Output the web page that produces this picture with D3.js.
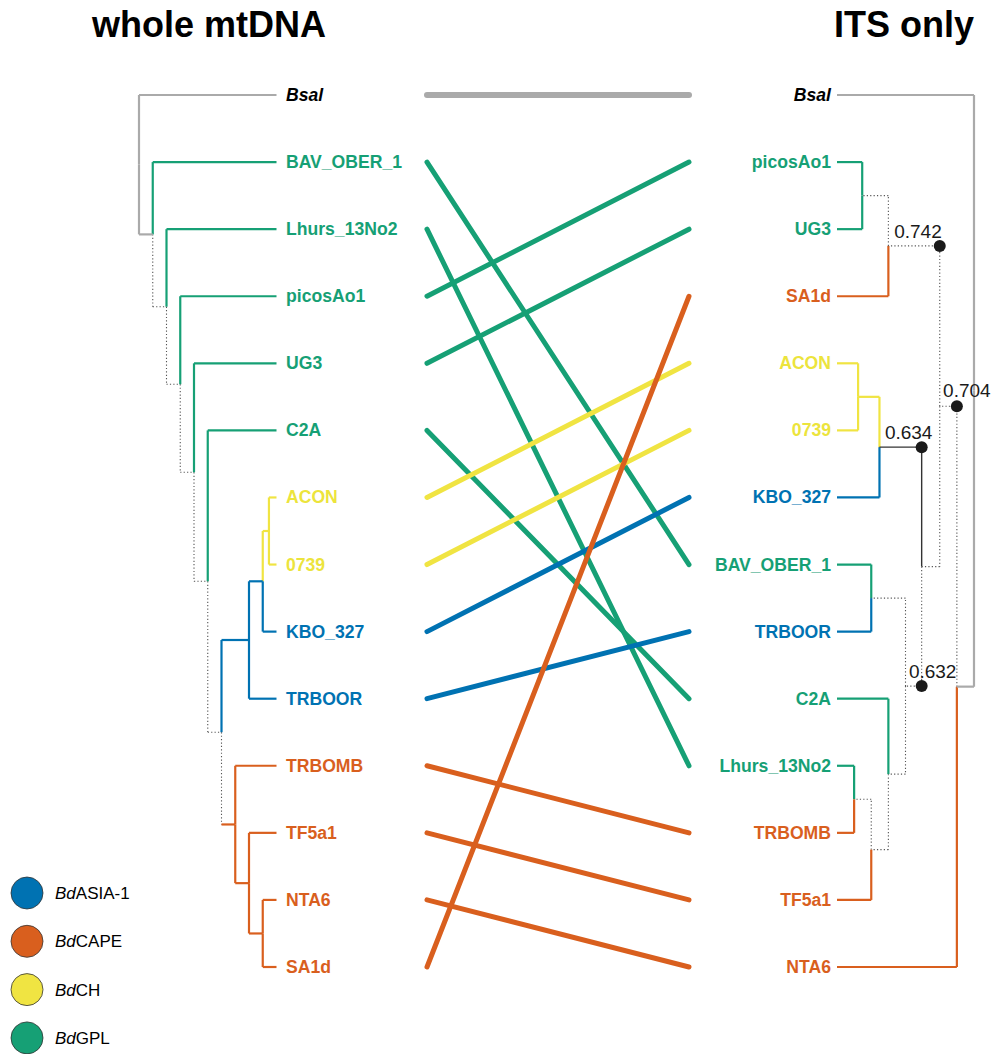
<!DOCTYPE html>
<html>
<head>
<meta charset="utf-8">
<script src="https://cdn.jsdelivr.net/npm/d3@7"></script>
<style>
  body { margin: 0; background: #fff; }
  text { font-family: "Liberation Sans", Arial, sans-serif; }
</style>
</head>
<body>
<script>
// Tip order of each tree, top to bottom
var leftTips = ['Bsal', 'BAV_OBER_1', 'Lhurs_13No2', 'picosAo1', 'UG3', 'C2A', 'ACON', '0739',
  'KBO_327', 'TRBOOR', 'TRBOMB', 'TF5a1', 'NTA6', 'SA1d']
var rightTips = ['Bsal', 'picosAo1', 'UG3', 'SA1d', 'ACON', '0739', 'KBO_327', 'BAV_OBER_1',
  'TRBOOR', 'C2A', 'Lhurs_13No2', 'TRBOMB', 'TF5a1', 'NTA6']

// Lineage of each isolate
var lineages = {
  Bsal: 'Bsal',
  BAV_OBER_1: 'GPL',
  Lhurs_13No2: 'GPL',
  picosAo1: 'GPL',
  UG3: 'GPL',
  C2A: 'GPL',
  ACON: 'CH',
  '0739': 'CH',
  KBO_327: 'ASIA1',
  TRBOOR: 'ASIA1',
  TRBOMB: 'CAPE',
  TF5a1: 'CAPE',
  NTA6: 'CAPE',
  SA1d: 'CAPE'
}

// Internal nodes: [id, parent, depth from root, branch class, connector class (optional)]
var leftNodes = [
  ['r', null, 0, 'Bsal'],
  ['n1', 'r', 1, 'Bsal'],
  ['n2', 'n1', 2, 'dotted'],
  ['n3', 'n2', 3, 'dotted'],
  ['n4', 'n3', 4, 'dotted'],
  ['n5', 'n4', 5, 'dotted'],
  ['n6', 'n5', 6, 'dotted'],
  ['n7', 'n6', 8, 'ASIA1'],
  ['n8', 'n6', 7, 'CAPE', 'dotted'],
  ['n9', 'n7', 9, 'ASIA1'],
  ['n10', 'n9', 9.45, 'CH'],
  ['n11', 'n8', 8, 'CAPE'],
  ['n12', 'n11', 9, 'CAPE']
]
// Parent node of each tip
var leftTipParents = {
  Bsal: 'r', BAV_OBER_1: 'n1', Lhurs_13No2: 'n2', picosAo1: 'n3', UG3: 'n4', C2A: 'n5',
  ACON: 'n10', '0739': 'n10', KBO_327: 'n9', TRBOOR: 'n7', TRBOMB: 'n8', TF5a1: 'n11',
  NTA6: 'n12', SA1d: 'n12'
}

var rightNodes = [
  ['r', null, 0, 'Bsal'],
  ['q', 'r', 1.25, 'Bsal'],
  ['p', 'q', 2.5, 'dotted'],
  ['t', 'p', 3.82, 'dotted'],
  ['s', 'p', 6.25, 'dotted'],
  ['u', 't', 6.9, 'plain'],
  ['v', 't', 5.0, 'dotted'],
  ['m', 's', 8.16, 'dotted'],
  ['w', 'u', 8.46, 'CH'],
  ['x', 'v', 7.5, 'dotted'],
  ['y', 'v', 6.25, 'dotted'],
  ['z', 'y', 7.5, 'dotted'],
  ['a', 'z', 8.75, 'dotted']
]
var rightTipParents = {
  Bsal: 'r', picosAo1: 'm', UG3: 'm', SA1d: 's', ACON: 'w', '0739': 'w', KBO_327: 'u',
  BAV_OBER_1: 'x', TRBOOR: 'x', C2A: 'y', Lhurs_13No2: 'a', TRBOMB: 'a', TF5a1: 'z', NTA6: 'q'
}

// Support values on the ITS tree
var supportNodes = ['s', 'p', 'u', 'v']
var supportValues = [0.742, 0.704, 0.634, 0.632]

// Legend
var legendKeys = ['ASIA1', 'CAPE', 'CH', 'GPL']
var legendNames = ['ASIA-1', 'CAPE', 'CH', 'GPL']

var width = 995
var height = 1054
var tipDepth = 10

var color = d3.scaleOrdinal()
  .domain(['Bsal', 'ASIA1', 'CAPE', 'CH', 'GPL', 'plain', 'dotted'])
  .range(['#aaaaaa', '#0072b2', '#d95f1e', '#f0e442', '#16a075', '#333333', '#555555'])

var labelColor = d3.scaleOrdinal()
  .domain(['Bsal', 'ASIA1', 'CAPE', 'CH', 'GPL'])
  .range(['#000000', '#0072b2', '#d95f1e', '#ece43c', '#16a075'])

var yScale = d3.scalePoint()
  .domain(d3.range(leftTips.length))
  .range([95, 967])

var svg = d3.select('body').append('svg')
  .attr('width', width)
  .attr('height', height)

// Build node table with x/y positions
function layoutTree (nodes, tipParents, tips, xScale) {
  var table = {}
  nodes.forEach(function (n) {
    table[n[0]] = { id: n[0], parent: n[1], depth: n[2], cls: n[3], link: n[4] || n[3], children: [] }
  })
  tips.forEach(function (t, i) {
    var c = lineages[t]
    table['tip:' + t] = { id: 'tip:' + t, parent: tipParents[t], depth: tipDepth, cls: c, link: c, children: [], y: yScale(i), name: t }
  })
  Object.keys(table).forEach(function (k) {
    var n = table[k]
    if (n.parent) table[n.parent].children.push(n)
  })
  function setY (n) {
    if (n.y !== undefined) return n.y
    n.y = d3.mean(n.children, setY)
    return n.y
  }
  Object.keys(table).forEach(function (k) {
    setY(table[k])
    table[k].x = xScale(table[k].depth)
  })
  return table
}

function styleLine (sel, cls) {
  sel.attr('fill', 'none')
    .attr('stroke', color(cls))
    .attr('stroke-width', cls === 'dotted' ? 1.1 : (cls === 'plain' ? 1.4 : 2.2))
    .attr('stroke-dasharray', cls === 'dotted' ? '1.2,2.2' : null)
}

function drawTree (table) {
  var g = svg.append('g')
  var list = Object.keys(table).map(function (k) { return table[k] }).filter(function (n) { return n.parent })
  // dotted first so coloured branches sit on top
  list.sort(function (a, b) { return (b.link === 'dotted') - (a.link === 'dotted') })
  list.forEach(function (n) {
    var p = table[n.parent]
    g.append('path')
      .attr('d', 'M' + p.x + ',' + p.y + 'V' + n.y)
      .call(styleLine, n.link)
  })
  list.sort(function (a, b) { return (b.cls === 'dotted') - (a.cls === 'dotted') })
  list.forEach(function (n) {
    var p = table[n.parent]
    g.append('path')
      .attr('d', 'M' + p.x + ',' + n.y + 'H' + n.x)
      .call(styleLine, n.cls)
  })
}

function drawLabels (tips, x, anchor) {
  svg.append('g').selectAll('text')
    .data(tips)
    .enter()
    .append('text')
    .attr('x', x)
    .attr('y', function (d, i) { return yScale(i) + 6 })
    .attr('text-anchor', anchor)
    .attr('font-size', 17.6)
    .attr('font-weight', 'bold')
    .attr('font-style', function (d) { return d === 'Bsal' ? 'italic' : null })
    .attr('fill', function (d) { return labelColor(lineages[d]) })
    .text(function (d) { return d })
}

var leftX = d3.scaleLinear().domain([0, tipDepth]).range([139, 276.5])
var rightX = d3.scaleLinear().domain([0, tipDepth]).range([974, 837])

var leftTree = layoutTree(leftNodes, leftTipParents, leftTips, leftX)
var rightTree = layoutTree(rightNodes, rightTipParents, rightTips, rightX)

drawTree(leftTree)
drawTree(rightTree)
drawLabels(leftTips, 286, 'start')
drawLabels(rightTips, 831, 'end')

// Links between the two trees
svg.append('g').selectAll('line')
  .data(leftTips)
  .enter()
  .append('line')
  .attr('x1', 427)
  .attr('x2', 689)
  .attr('y1', function (d, i) { return yScale(i) })
  .attr('y2', function (d) { return yScale(rightTips.indexOf(d)) })
  .attr('stroke', function (d) { return color(lineages[d]) })
  .attr('stroke-width', function (d) { return d === 'Bsal' ? 6 : 5 })
  .attr('stroke-linecap', 'round')

// Support values
var labelOffsets = [[2, -8], [10, -9], [-13, -8], [11, -8]]
supportNodes.forEach(function (id, i) {
  var n = rightTree[id]
  var px = rightTree[n.parent].x
  svg.append('circle')
    .attr('cx', px)
    .attr('cy', n.y)
    .attr('r', 6)
    .attr('fill', '#1a1a1a')
  svg.append('text')
    .attr('x', px + labelOffsets[i][0])
    .attr('y', n.y + labelOffsets[i][1])
    .attr('text-anchor', i === 0 ? 'end' : 'middle')
    .attr('font-family', '"Open Sans", "Noto Sans", sans-serif')
    .attr('font-size', 19)
    .attr('fill', '#1a1a1a')
    .text(supportValues[i])
})

// Titles
svg.append('text')
  .attr('x', 92)
  .attr('y', 37)
  .attr('font-size', 36)
  .attr('font-weight', 'bold')
  .text('whole mtDNA')
svg.append('text')
  .attr('x', 974)
  .attr('y', 37)
  .attr('text-anchor', 'end')
  .attr('font-size', 36)
  .attr('font-weight', 'bold')
  .text('ITS only')

// Legend
var legend = svg.append('g')
legendKeys.forEach(function (k, i) {
  var cy = 893 + i * 48.3
  legend.append('circle')
    .attr('cx', 27)
    .attr('cy', cy)
    .attr('r', 16)
    .attr('fill', color(k))
    .attr('stroke', '#333')
    .attr('stroke-width', 0.8)
  var t = legend.append('text')
    .attr('x', 55)
    .attr('y', cy + 6)
    .attr('font-size', 17)
    .attr('fill', '#000')
  t.append('tspan').attr('font-style', 'italic').text('Bd')
  t.append('tspan').text(legendNames[i])
})
</script>
</body>
</html>
